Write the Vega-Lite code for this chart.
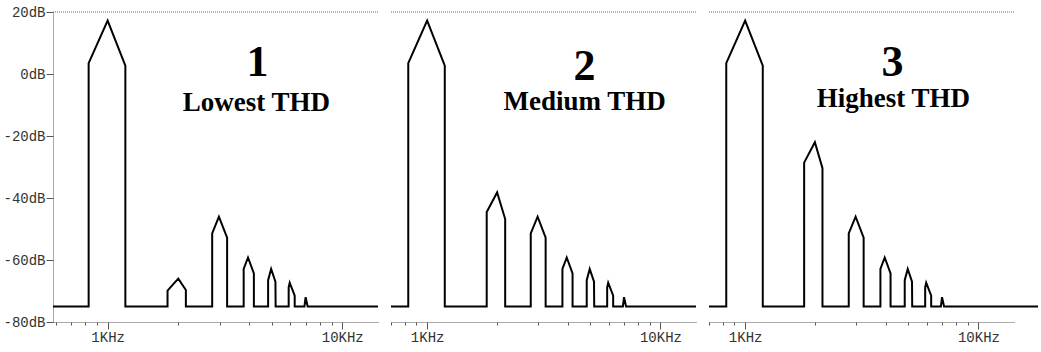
{
  "$schema": "https://vega.github.io/schema/vega-lite/v6.json",
  "background": "white",
  "padding": {"left": 2, "top": 5, "right": 0, "bottom": 0},
  "spacing": 5,
  "config": {
    "view": {"stroke": null},
    "axis": {
      "labelFont": "Liberation Mono",
      "labelFontSize": 14,
      "labelColor": "#333333",
      "tickColor": "#555555",
      "domainColor": "#555555",
      "domainDash": [1, 1],
      "grid": false,
      "title": null
    }
  },
  "datasets": {
    "p1": [
      {"i": 0, "f": 585, "db": -75}, {"i": 1, "f": 830, "db": -75}, {"i": 2, "f": 830, "db": 3.5}, {"i": 3, "f": 1000, "db": 17.2}, {"i": 4, "f": 1190, "db": 2.7}, {"i": 5, "f": 1190, "db": -75},
      {"i": 6, "f": 1800, "db": -75}, {"i": 7, "f": 1800, "db": -69.9}, {"i": 8, "f": 2000, "db": -66.0}, {"i": 9, "f": 2155, "db": -69.7}, {"i": 10, "f": 2155, "db": -75},
      {"i": 11, "f": 2790, "db": -75}, {"i": 12, "f": 2790, "db": -51.4}, {"i": 13, "f": 2980, "db": -46.0}, {"i": 14, "f": 3230, "db": -52.8}, {"i": 15, "f": 3230, "db": -75},
      {"i": 16, "f": 3800, "db": -75}, {"i": 17, "f": 3800, "db": -62.9}, {"i": 18, "f": 3965, "db": -59.2}, {"i": 19, "f": 4200, "db": -64.3}, {"i": 20, "f": 4200, "db": -75},
      {"i": 21, "f": 4830, "db": -75}, {"i": 22, "f": 4830, "db": -66.5}, {"i": 23, "f": 4975, "db": -62.9}, {"i": 24, "f": 5190, "db": -67.0}, {"i": 25, "f": 5200, "db": -75},
      {"i": 26, "f": 5910, "db": -75}, {"i": 27, "f": 5910, "db": -68.8}, {"i": 28, "f": 5970, "db": -67.3}, {"i": 29, "f": 6270, "db": -71.5}, {"i": 30, "f": 6270, "db": -75},
      {"i": 31, "f": 6900, "db": -75}, {"i": 32, "f": 6980, "db": -72.0}, {"i": 33, "f": 7120, "db": -75}, {"i": 34, "f": 14200, "db": -75}
    ],
    "p2": [
      {"i": 0, "f": 700, "db": -75}, {"i": 1, "f": 830, "db": -75}, {"i": 2, "f": 830, "db": 3.5}, {"i": 3, "f": 1000, "db": 17.2}, {"i": 4, "f": 1190, "db": 2.7}, {"i": 5, "f": 1190, "db": -75},
      {"i": 6, "f": 1800, "db": -75}, {"i": 7, "f": 1800, "db": -44.5}, {"i": 8, "f": 1995, "db": -38.2}, {"i": 9, "f": 2160, "db": -46.8}, {"i": 10, "f": 2160, "db": -75},
      {"i": 11, "f": 2780, "db": -75}, {"i": 12, "f": 2780, "db": -51.4}, {"i": 13, "f": 2975, "db": -46.0}, {"i": 14, "f": 3220, "db": -52.8}, {"i": 15, "f": 3220, "db": -75},
      {"i": 16, "f": 3800, "db": -75}, {"i": 17, "f": 3800, "db": -62.9}, {"i": 18, "f": 3965, "db": -59.2}, {"i": 19, "f": 4200, "db": -64.3}, {"i": 20, "f": 4200, "db": -75},
      {"i": 21, "f": 4830, "db": -75}, {"i": 22, "f": 4830, "db": -66.5}, {"i": 23, "f": 4975, "db": -62.9}, {"i": 24, "f": 5190, "db": -67.0}, {"i": 25, "f": 5200, "db": -75},
      {"i": 26, "f": 5910, "db": -75}, {"i": 27, "f": 5910, "db": -68.8}, {"i": 28, "f": 5970, "db": -67.3}, {"i": 29, "f": 6270, "db": -71.5}, {"i": 30, "f": 6270, "db": -75},
      {"i": 31, "f": 6900, "db": -75}, {"i": 32, "f": 6980, "db": -72.0}, {"i": 33, "f": 7120, "db": -75}, {"i": 34, "f": 14200, "db": -75}
    ],
    "p3": [
      {"i": 0, "f": 700, "db": -75}, {"i": 1, "f": 830, "db": -75}, {"i": 2, "f": 830, "db": 3.5}, {"i": 3, "f": 1000, "db": 17.2}, {"i": 4, "f": 1190, "db": 2.7}, {"i": 5, "f": 1190, "db": -75},
      {"i": 6, "f": 1790, "db": -75}, {"i": 7, "f": 1790, "db": -28.6}, {"i": 8, "f": 1990, "db": -22.0}, {"i": 9, "f": 2145, "db": -30.4}, {"i": 10, "f": 2145, "db": -75},
      {"i": 11, "f": 2780, "db": -75}, {"i": 12, "f": 2780, "db": -51.4}, {"i": 13, "f": 2975, "db": -46.0}, {"i": 14, "f": 3220, "db": -52.8}, {"i": 15, "f": 3220, "db": -75},
      {"i": 16, "f": 3800, "db": -75}, {"i": 17, "f": 3800, "db": -62.9}, {"i": 18, "f": 3965, "db": -59.2}, {"i": 19, "f": 4200, "db": -64.3}, {"i": 20, "f": 4200, "db": -75},
      {"i": 21, "f": 4830, "db": -75}, {"i": 22, "f": 4830, "db": -66.5}, {"i": 23, "f": 4975, "db": -62.9}, {"i": 24, "f": 5190, "db": -67.0}, {"i": 25, "f": 5200, "db": -75},
      {"i": 26, "f": 5910, "db": -75}, {"i": 27, "f": 5910, "db": -68.8}, {"i": 28, "f": 5970, "db": -67.3}, {"i": 29, "f": 6270, "db": -71.5}, {"i": 30, "f": 6270, "db": -75},
      {"i": 31, "f": 6900, "db": -75}, {"i": 32, "f": 6980, "db": -72.0}, {"i": 33, "f": 7120, "db": -75}, {"i": 34, "f": 18000, "db": -75}
    ]
  },
  "hconcat": [
    {
      "width": 325,
      "height": 310,
      "layer": [
        {
          "data": {"values": [{"top": 20}]},
          "mark": {"type": "rule", "color": "#666666", "strokeDash": [1, 1], "strokeWidth": 1},
          "encoding": {"y": {"field": "top", "type": "quantitative"}}
        },
        {
          "data": {"name": "p1"},
          "mark": {"type": "line", "color": "black", "strokeWidth": 2, "clip": false},
          "encoding": {
            "x": {
              "field": "f", "type": "quantitative",
              "scale": {"type": "log", "domain": [585, 14200], "nice": false},
              "axis": {
                "values": [600, 700, 800, 900, 1000, 2000, 3000, 4000, 5000, 6000, 7000, 8000, 9000, 10000],
                "labelExpr": "datum.value == 1000 ? '1KHz' : (datum.value == 10000 ? '10KHz' : '')",
                "tickSize": {"condition": {"test": "datum.value == 1000 || datum.value == 10000", "value": 7}, "value": 3},
                "labelPadding": 1, "labelOverlap": false, "labelFlush": false
              }
            },
            "y": {
              "field": "db", "type": "quantitative",
              "scale": {"domain": [-80, 20], "nice": false, "zero": false},
              "axis": {
                "values": [-80, -60, -40, -20, 0, 20],
                "labelExpr": "datum.value + 'dB'",
                "tickSize": 7, "labelPadding": 1, "labelOverlap": false, "labelFlush": false
              }
            },
            "order": {"field": "i", "type": "quantitative"}
          }
        },
        {
          "data": {"values": [{"t": "1", "f": 4350, "db": -0.6}]},
          "mark": {"type": "text", "font": "Liberation Serif", "fontWeight": "bold", "fontSize": 44, "align": "center", "baseline": "alphabetic", "color": "black"},
          "encoding": {"x": {"field": "f", "type": "quantitative"}, "y": {"field": "db", "type": "quantitative"}, "text": {"field": "t"}}
        },
        {
          "data": {"values": [{"t": "Lowest THD", "f": 4300, "db": -12}]},
          "mark": {"type": "text", "font": "Liberation Serif", "fontWeight": "bold", "fontSize": 27, "align": "center", "baseline": "alphabetic", "color": "black"},
          "encoding": {"x": {"field": "f", "type": "quantitative"}, "y": {"field": "db", "type": "quantitative"}, "text": {"field": "t"}}
        }
      ]
    },
    {
      "width": 305,
      "height": 310,
      "layer": [
        {
          "data": {"values": [{"top": 20}]},
          "mark": {"type": "rule", "color": "#666666", "strokeDash": [1, 1], "strokeWidth": 1},
          "encoding": {"y": {"field": "top", "type": "quantitative"}}
        },
        {
          "data": {"name": "p2"},
          "mark": {"type": "line", "color": "black", "strokeWidth": 2, "clip": false},
          "encoding": {
            "x": {
              "field": "f", "type": "quantitative",
              "scale": {"type": "log", "domain": [700, 14200], "nice": false},
              "axis": {
                "values": [700, 800, 900, 1000, 2000, 3000, 4000, 5000, 6000, 7000, 8000, 9000, 10000],
                "labelExpr": "datum.value == 1000 ? '1KHz' : (datum.value == 10000 ? '10KHz' : '')",
                "tickSize": {"condition": {"test": "datum.value == 1000 || datum.value == 10000", "value": 7}, "value": 3},
                "labelPadding": 1, "labelOverlap": false, "labelFlush": false
              }
            },
            "y": {
              "field": "db", "type": "quantitative",
              "scale": {"domain": [-80, 20], "nice": false, "zero": false},
              "axis": null
            },
            "order": {"field": "i", "type": "quantitative"}
          }
        },
        {
          "data": {"values": [{"t": "2", "f": 4730, "db": -1.9}]},
          "mark": {"type": "text", "font": "Liberation Serif", "fontWeight": "bold", "fontSize": 44, "align": "center", "baseline": "alphabetic", "color": "black"},
          "encoding": {"x": {"field": "f", "type": "quantitative"}, "y": {"field": "db", "type": "quantitative"}, "text": {"field": "t"}}
        },
        {
          "data": {"values": [{"t": "Medium THD", "f": 4730, "db": -11.6}]},
          "mark": {"type": "text", "font": "Liberation Serif", "fontWeight": "bold", "fontSize": 27, "align": "center", "baseline": "alphabetic", "color": "black"},
          "encoding": {"x": {"field": "f", "type": "quantitative"}, "y": {"field": "db", "type": "quantitative"}, "text": {"field": "t"}}
        }
      ]
    },
    {
      "width": 305,
      "height": 310,
      "layer": [
        {
          "data": {"values": [{"top": 20}]},
          "mark": {"type": "rule", "color": "#666666", "strokeDash": [1, 1], "strokeWidth": 1},
          "encoding": {"y": {"field": "top", "type": "quantitative"}}
        },
        {
          "data": {"name": "p3"},
          "mark": {"type": "line", "color": "black", "strokeWidth": 2, "clip": false},
          "encoding": {
            "x": {
              "field": "f", "type": "quantitative",
              "scale": {"type": "log", "domain": [700, 14200], "nice": false},
              "axis": {
                "values": [700, 800, 900, 1000, 2000, 3000, 4000, 5000, 6000, 7000, 8000, 9000, 10000],
                "labelExpr": "datum.value == 1000 ? '1KHz' : (datum.value == 10000 ? '10KHz' : '')",
                "tickSize": {"condition": {"test": "datum.value == 1000 || datum.value == 10000", "value": 7}, "value": 3},
                "labelPadding": 1, "labelOverlap": false, "labelFlush": false
              }
            },
            "y": {
              "field": "db", "type": "quantitative",
              "scale": {"domain": [-80, 20], "nice": false, "zero": false},
              "axis": null
            },
            "order": {"field": "i", "type": "quantitative"}
          }
        },
        {
          "data": {"values": [{"t": "3", "f": 4280, "db": -0.6}]},
          "mark": {"type": "text", "font": "Liberation Serif", "fontWeight": "bold", "fontSize": 44, "align": "center", "baseline": "alphabetic", "color": "black"},
          "encoding": {"x": {"field": "f", "type": "quantitative"}, "y": {"field": "db", "type": "quantitative"}, "text": {"field": "t"}}
        },
        {
          "data": {"values": [{"t": "Highest THD", "f": 4320, "db": -10.6}]},
          "mark": {"type": "text", "font": "Liberation Serif", "fontWeight": "bold", "fontSize": 27, "align": "center", "baseline": "alphabetic", "color": "black"},
          "encoding": {"x": {"field": "f", "type": "quantitative"}, "y": {"field": "db", "type": "quantitative"}, "text": {"field": "t"}}
        }
      ]
    }
  ]
}
